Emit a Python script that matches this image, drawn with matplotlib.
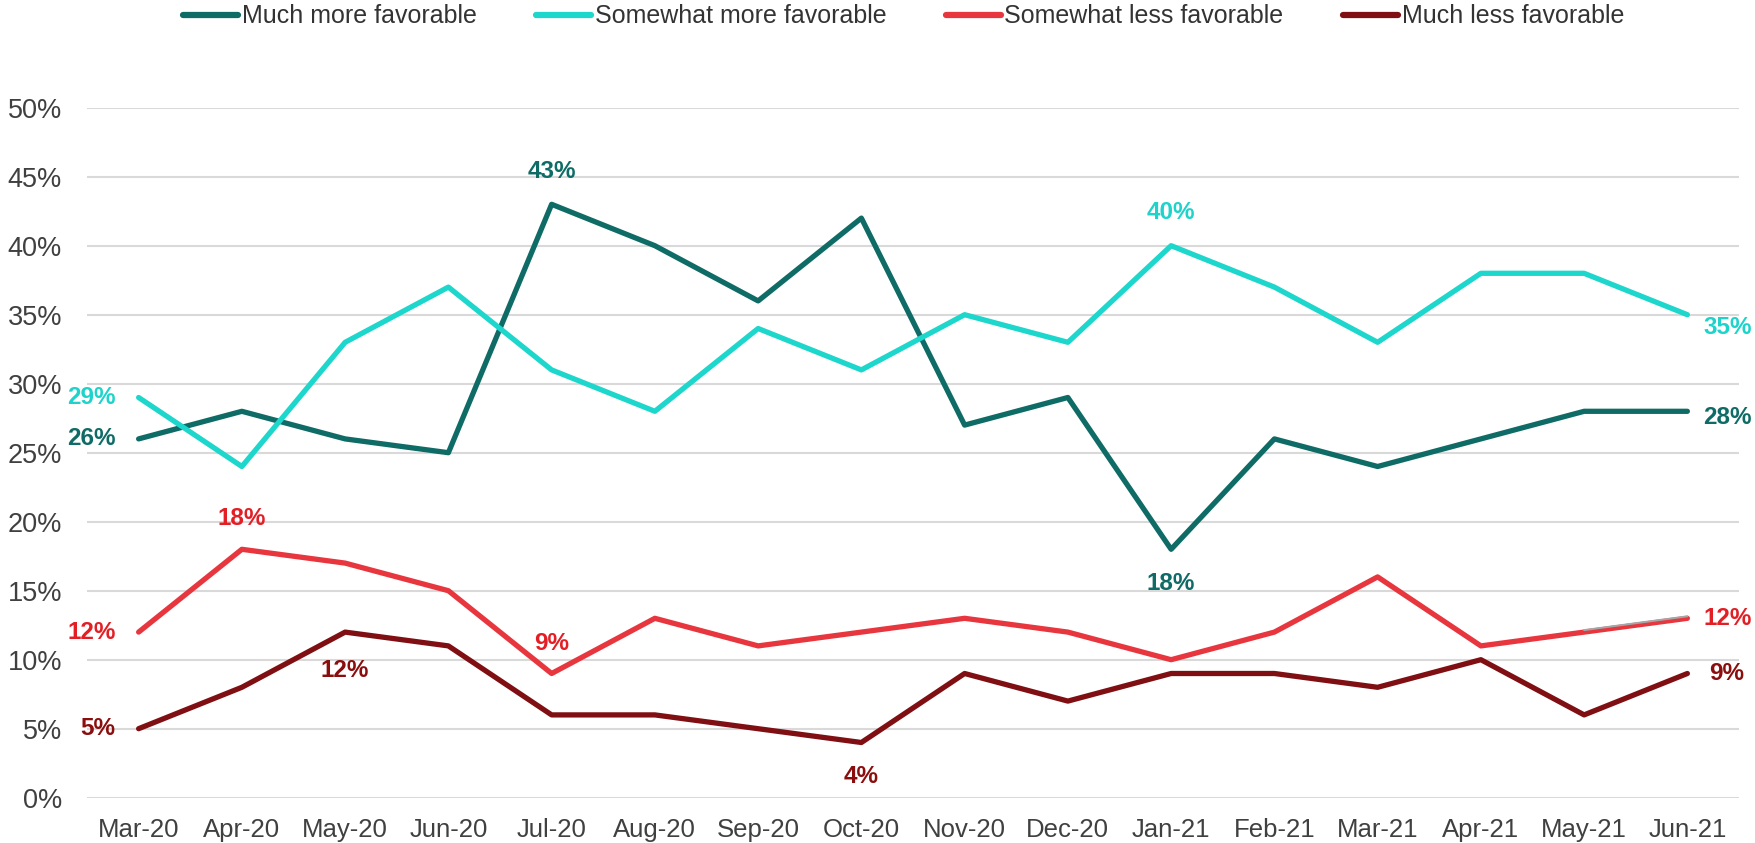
import matplotlib
matplotlib.use("Agg")
import matplotlib.pyplot as plt
import matplotlib.transforms as mtransforms

plt.rcParams['font.family'] = ['Liberation Sans', 'DejaVu Sans']

months = ["Mar-20", "Apr-20", "May-20", "Jun-20", "Jul-20", "Aug-20", "Sep-20", "Oct-20",
          "Nov-20", "Dec-20", "Jan-21", "Feb-21", "Mar-21", "Apr-21", "May-21", "Jun-21"]

much_more = [26, 28, 26, 25, 43, 40, 36, 42, 27, 29, 18, 26, 24, 26, 28, 28]
somewhat_more = [29, 24, 33, 37, 31, 28, 34, 31, 35, 33, 40, 37, 33, 38, 38, 35]
somewhat_less = [12, 18, 17, 15, 9, 13, 11, 12, 13, 12, 10, 12, 16, 11, 12, 13]
much_less = [5, 8, 12, 11, 6, 6, 5, 4, 9, 7, 9, 9, 8, 10, 6, 9]

# thin grey overlay seen on last red segment
grey_idx = [14, 15]
grey_vals = [12, 13]

yticks = [0, 5, 10, 15, 20, 25, 30, 35, 40, 45, 50]

series = [
    ("Much more favorable", much_more, "#0E6B65", "#0E6B65"),
    ("Somewhat more favorable", somewhat_more, "#1DD6CC", "#1DD3CA"),
    ("Somewhat less favorable", somewhat_less, "#E8363E", "#E31E24"),
    ("Much less favorable", much_less, "#7F0F12", "#8B0E0E"),
]

# (series index, point index, text, dx px, dy px, ha)
labels = [
    (0, 0, "26%", -23, 0, "right"),
    (0, 4, "43%", 0, 33, "center"),
    (0, 10, "18%", 0, -34, "center"),
    (0, 15, "28%", 16, -6, "left"),
    (1, 0, "29%", -23, 0, "right"),
    (1, 10, "40%", 0, 33, "center"),
    (1, 15, "35%", 16, -13, "left"),
    (2, 0, "12%", -23, 0, "right"),
    (2, 1, "18%", 0, 31, "center"),
    (2, 4, "9%", 0, 30, "center"),
    (2, 15, "12%", 16, 0, "left"),
    (3, 0, "5%", -23, 0, "right"),
    (3, 2, "12%", 0, -38, "center"),
    (3, 7, "4%", 0, -34, "center"),
    (3, 15, "9%", 22, 0, "left"),
]

fig = plt.figure(figsize=(17.56, 8.43), dpi=100)
ax = fig.add_axes([87 / 1756, 1 - 797.7 / 843, (1739 - 87) / 1756, (797.7 - 107.7) / 843])

x = list(range(len(months)))
handles = []
for name, vals, col, _ in series:
    h, = ax.plot(x, vals, color=col, lw=3.8, solid_capstyle='round', solid_joinstyle='round',
                 label=name, zorder=3)
    handles.append(h)

off = mtransforms.offset_copy(ax.transData, fig=fig, x=0, y=2.0, units='dots')
ax.plot(grey_idx, grey_vals, color="#A6A6A6", lw=1.4, transform=off, zorder=4,
        solid_capstyle='round')

for si, pi, txt, dx, dy, ha in labels:
    vals = series[si][1]
    ax.annotate(txt, (pi, vals[pi]), xytext=(dx, dy), textcoords='offset pixels',
                ha=ha, va='center', fontsize=17.5, fontweight='bold', color=series[si][3],
                zorder=5)

ax.set_xlim(-0.5, len(months) - 0.5)
ax.set_ylim(0, 50)
ax.set_yticks(yticks)
ax.set_yticklabels([f"{v}%" for v in yticks])
ax.set_xticks(x)
ax.set_xticklabels(months)
ax.tick_params(axis='both', length=0, colors="#404040")
ax.tick_params(axis='y', pad=18, labelsize=19.5)
ax.tick_params(axis='x', pad=14.5, labelsize=18.5)
ax.grid(axis='y', color="#D9D9D9", lw=1.5, zorder=0)
ax.set_axisbelow(True)
for s in ax.spines.values():
    s.set_visible(False)

leg = fig.legend(handles=handles, loc='upper left', bbox_to_anchor=(183 / 1756, 0.9947),
                 ncol=4, frameon=False, fontsize=18, handlelength=2.2, handletextpad=0.16,
                 columnspacing=2.36, borderpad=0, borderaxespad=0)
for t in leg.get_texts():
    t.set_color("#333333")
for lh in leg.get_lines():
    lh.set_linewidth(4.5)
    lh.set_solid_capstyle('round')

fig.savefig("out.png", dpi=100)
